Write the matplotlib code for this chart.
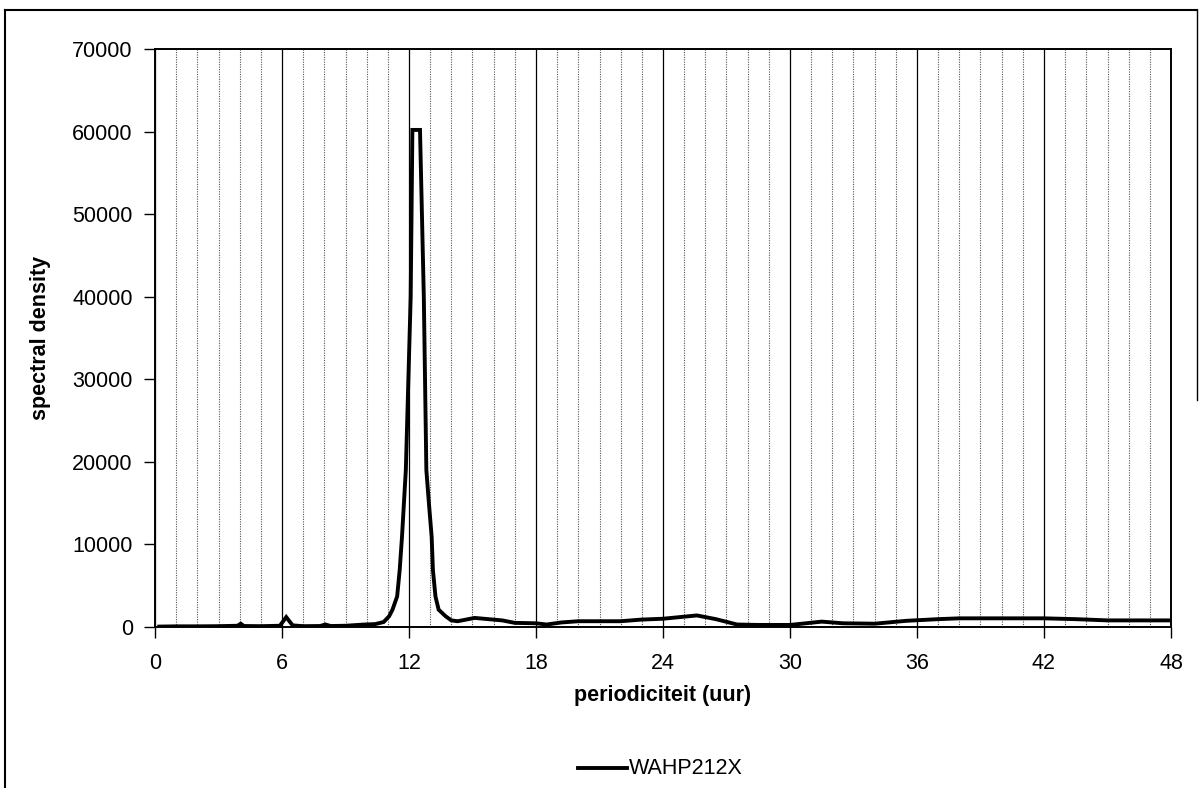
import matplotlib
matplotlib.use("Agg")
import matplotlib.pyplot as plt
from matplotlib.lines import Line2D
import numpy as np

plt.rcParams['font.family'] = ['Liberation Sans', 'DejaVu Sans']

period = [0.2, 1.0, 2.0, 3.0, 3.9, 4.05, 4.2, 5.0, 5.9, 6.2, 6.5, 7.0, 7.8, 8.05, 8.3,
          9.0, 9.9, 10.4, 10.8, 11.06, 11.22, 11.44, 11.56, 11.67, 11.76, 11.85, 12.08,
          12.16, 12.52, 12.70, 12.82, 12.94, 13.07, 13.13, 13.25, 13.4, 13.73, 14.0, 14.3,
          15.1, 16.4, 17.0, 18.0, 18.5, 19.2, 20.0, 22.0, 23.0, 24.0, 25.6, 26.5, 27.5,
          28.5, 30.0, 31.5, 32.5, 34.0, 35.5, 37.0, 38.0, 42.0, 43.5, 45.0, 48.0]
density = [50, 80, 80, 100, 150, 400, 120, 100, 150, 1200, 200, 100, 120, 300, 120,
           150, 300, 350, 600, 1300, 2100, 3700, 6900, 10950, 15000, 19000, 40000,
           60200, 60200, 40000, 19000, 15000, 10950, 6900, 3700, 2100, 1300, 800, 700,
           1100, 800, 500, 450, 300, 550, 700, 700, 900, 1000, 1400, 950, 300,
           250, 250, 650, 450, 400, 750, 950, 1050, 1050, 950, 800, 800]
series_name = "WAHP212X"
x_ticks = list(range(0, 49, 6))
y_ticks = list(range(0, 70001, 10000))

W, H = 1202, 788
fig = plt.figure(figsize=(W / 100, H / 100), dpi=100)

# outer chart border
fig.add_artist(Line2D([5 / W, 5 / W], [0, 1 - 10 / H], color='black', lw=1.5))
fig.add_artist(Line2D([5 / W, 1197 / W], [1 - 10 / H, 1 - 10 / H], color='black', lw=1.5))
fig.add_artist(Line2D([1197 / W, 1197 / W], [1 - 10 / H, 1 - 400 / H], color='black', lw=1.0))

left, right, top, bottom = 155, 1171, 49, 627
ax = fig.add_axes([left / W, 1 - bottom / H, (right - left) / W, (bottom - top) / H])

ax.set_xlim(0, 48)
ax.set_ylim(0, 70000)
ax.set_xticks(x_ticks)
ax.set_yticks(y_ticks)
ax.set_xticks(np.arange(0, 49, 1), minor=True)
ax.tick_params(axis='x', which='minor', length=0)
ax.tick_params(axis='both', which='major', direction='out', length=8, width=1,
               labelsize=15.5, colors='black')
ax.tick_params(axis='x', pad=11)
ax.tick_params(axis='y', pad=8)

ax.grid(True, axis='x', which='major', color='black', lw=0.9, ls='-')
ax.grid(True, axis='x', which='minor', color='#555555', lw=0.8, ls=(0, (1, 1.2)))
ax.set_axisbelow(True)

for s in ax.spines.values():
    s.set_linewidth(1.4)
    s.set_color('black')

ax.plot(period, density, color='black', lw=2.8, solid_joinstyle='miter')

ax.set_xlabel("periodiciteit (uur)", fontsize=15.5, fontweight='bold', labelpad=8)
ax.set_ylabel("spectral density", fontsize=15.5, fontweight='bold', labelpad=15)

# legend below
fig.add_artist(Line2D([578 / W, 627 / W], [1 - 768 / H, 1 - 768 / H], color='black', lw=2.8))
fig.text(629 / W, 1 - 768 / H, series_name, fontsize=15.5, va='center', ha='left')

fig.savefig("out.png", dpi=100)
